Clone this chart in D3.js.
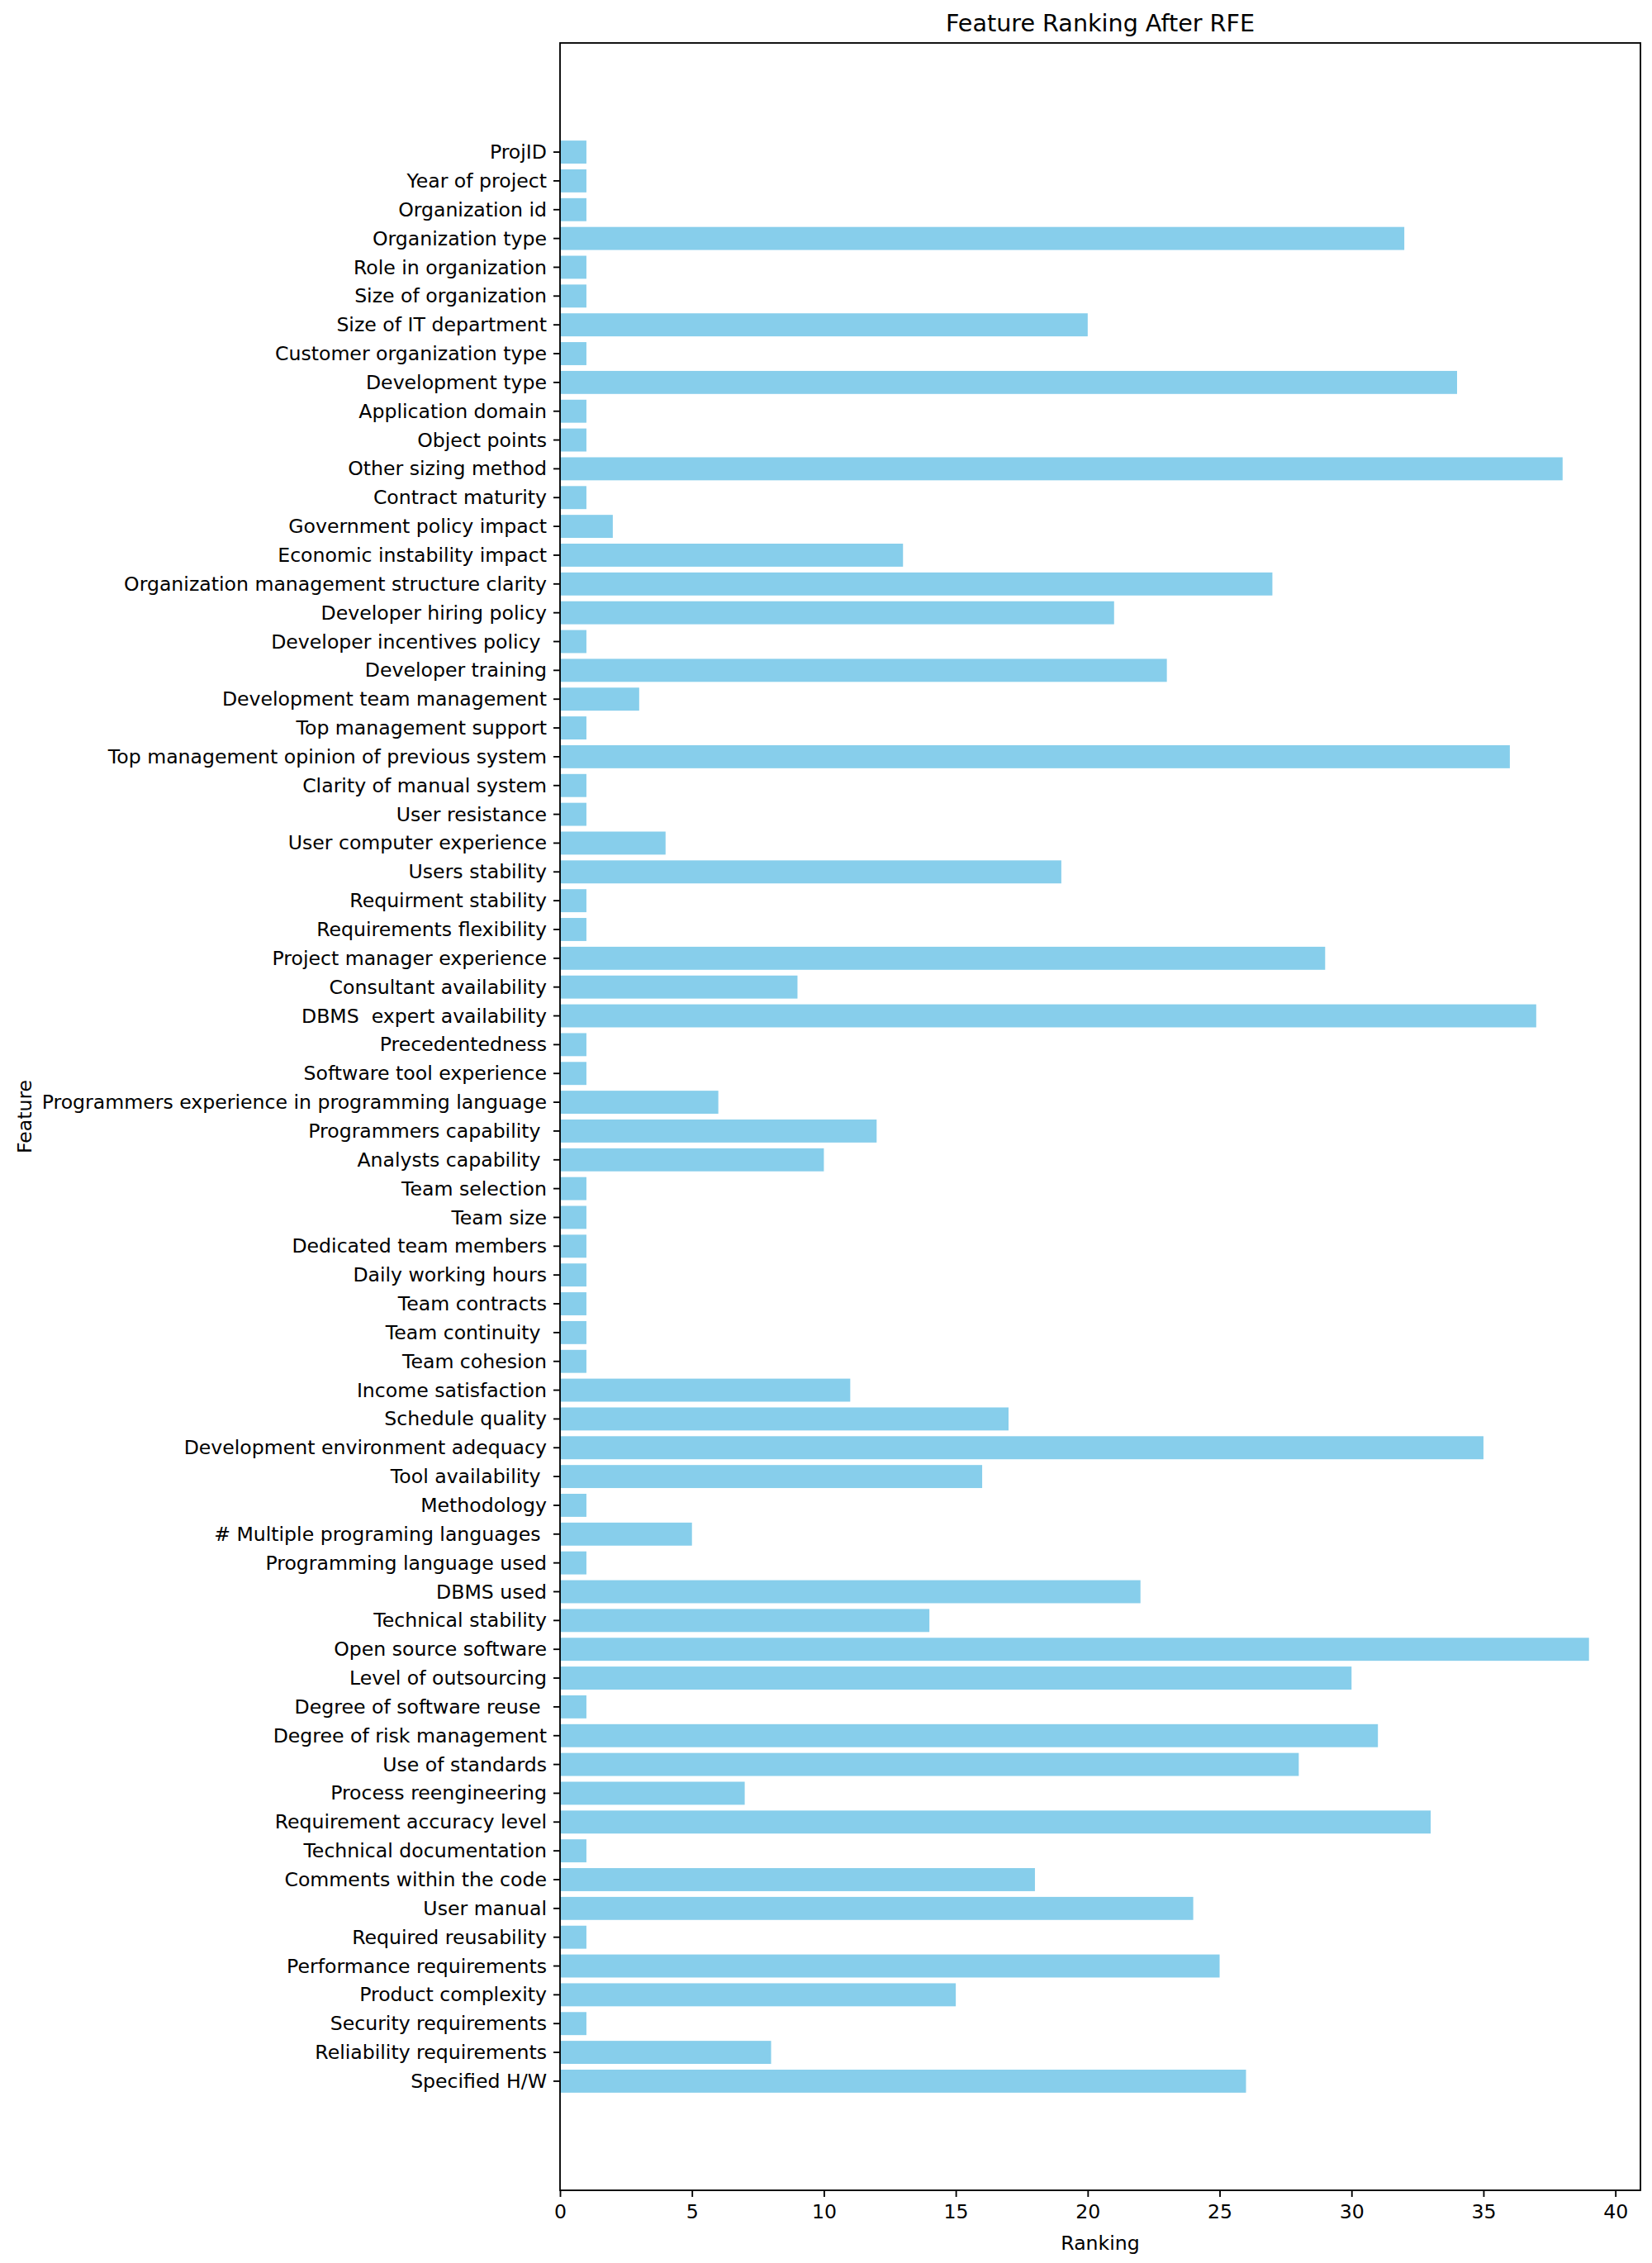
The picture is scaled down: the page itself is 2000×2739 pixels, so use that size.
<!DOCTYPE html>
<html>
<head>
<meta charset="utf-8">
<script src="https://cdn.jsdelivr.net/npm/d3@7"></script>
<style>
  body { margin: 0; background: #fff; }
  text { font-family: "DejaVu Sans", sans-serif; fill: #000; }
</style>
</head>
<body>
<div id="chart"></div>
<script>
/* CONSTANTS AND GLOBALS */
const width = 2000,
  height = 2739,
  margin = { top: 52, bottom: 88, left: 678, right: 14 };

// features listed top to bottom as they appear on the chart
const features = [
  "ProjID", "Year of project", "Organization id", "Organization type",
  "Role in organization", "Size of organization", "Size of IT department",
  "Customer organization type", "Development type", "Application domain",
  "Object points", "Other sizing method", "Contract maturity",
  "Government policy impact", "Economic instability impact",
  "Organization management structure clarity", "Developer hiring policy",
  "Developer incentives policy ", "Developer training",
  "Development team management", "Top management support",
  "Top management opinion of previous system", "Clarity of manual system",
  "User resistance", "User computer experience", "Users stability",
  "Requirment stability", "Requirements flexibility",
  "Project manager experience", "Consultant availability",
  "DBMS  expert availability", "Precedentedness", "Software tool experience",
  "Programmers experience in programming language", "Programmers capability ",
  "Analysts capability ", "Team selection", "Team size",
  "Dedicated team members", "Daily working hours", "Team contracts",
  "Team continuity ", "Team cohesion", "Income satisfaction",
  "Schedule quality", "Development environment adequacy",
  "Tool availability ", "Methodology", "# Multiple programing languages ",
  "Programming language used", "DBMS used", "Technical stability",
  "Open source software", "Level of outsourcing", "Degree of software reuse ",
  "Degree of risk management", "Use of standards", "Process reengineering",
  "Requirement accuracy level", "Technical documentation",
  "Comments within the code", "User manual", "Required reusability",
  "Performance requirements", "Product complexity", "Security requirements",
  "Reliability requirements", "Specified H/W"
];

// RFE ranking, same order as features
const rankings = [
  1, 1, 1, 32, 1, 1, 20, 1, 34, 1,
  1, 38, 1, 2, 13, 27, 21, 1, 23, 3,
  1, 36, 1, 1, 4, 19, 1, 1, 29, 9,
  37, 1, 1, 6, 12, 10, 1, 1, 1, 1,
  1, 1, 1, 11, 17, 35, 16, 1, 5, 1,
  22, 14, 39, 30, 1, 31, 28, 7, 33, 1,
  18, 24, 1, 25, 15, 1, 8, 26
];

const xTicks = [0, 5, 10, 15, 20, 25, 30, 35, 40];

const data = features.map((f, i) => ({ feature: f, rank: rankings[i] }));

const svg = d3.select("#chart")
  .append("svg")
  .attr("width", width)
  .attr("height", height);

// + SCALES
const xScale = d3.scaleLinear()
  .domain([0, 40.95])
  .range([margin.left, width - margin.right]);

const yScale = d3.scaleBand()
  .domain(features)
  .range([margin.top, height - margin.bottom])
  .paddingInner(0.2)
  .paddingOuter(3.39);

// + BARS
svg.selectAll(".bar")
  .data(data)
  .join("rect")
  .attr("class", "bar")
  .attr("x", xScale(0))
  .attr("y", d => yScale(d.feature))
  .attr("width", d => xScale(d.rank) - xScale(0))
  .attr("height", yScale.bandwidth())
  .attr("fill", "#87ceeb");

// + AXES
const xAxis = d3.axisBottom(xScale)
  .tickValues(xTicks)
  .tickSize(8)
  .tickSizeOuter(0)
  .tickPadding(8);

const yAxis = d3.axisLeft(yScale)
  .tickSize(8)
  .tickSizeOuter(0)
  .tickPadding(8);

const gx = svg.append("g")
  .attr("transform", `translate(0,${height - margin.bottom})`)
  .call(xAxis);

const gy = svg.append("g")
  .attr("transform", `translate(${margin.left},0)`)
  .call(yAxis);

[gx, gy].forEach(g => {
  g.select(".domain").remove();
  g.selectAll(".tick line").attr("stroke", "#000").attr("stroke-width", 1.85);
  g.selectAll(".tick text")
    .attr("font-family", "DejaVu Sans")
    .attr("font-size", 23.6)
    .attr("fill", "#000")
    .style("white-space", "pre");
});
gx.selectAll(".tick text").attr("dy", "0.76em");
gy.selectAll(".tick text").attr("dy", "0.34em").attr("xml:space", "preserve");

// frame round the plot area
svg.append("rect")
  .attr("x", margin.left)
  .attr("y", margin.top)
  .attr("width", width - margin.right - margin.left)
  .attr("height", height - margin.bottom - margin.top)
  .attr("fill", "none")
  .attr("stroke", "#000")
  .attr("stroke-width", 1.85);

// + TITLE AND LABELS
svg.append("text")
  .attr("x", (margin.left + width - margin.right) / 2)
  .attr("y", 38)
  .attr("text-anchor", "middle")
  .attr("font-size", 28.6)
  .text("Feature Ranking After RFE");

svg.append("text")
  .attr("x", (margin.left + width - margin.right) / 2)
  .attr("y", 2723)
  .attr("text-anchor", "middle")
  .attr("font-size", 23.6)
  .text("Ranking");

svg.append("text")
  .attr("transform", `translate(38,${(margin.top + height - margin.bottom) / 2}) rotate(-90)`)
  .attr("text-anchor", "middle")
  .attr("font-size", 23.6)
  .text("Feature");
</script>
</body>
</html>
